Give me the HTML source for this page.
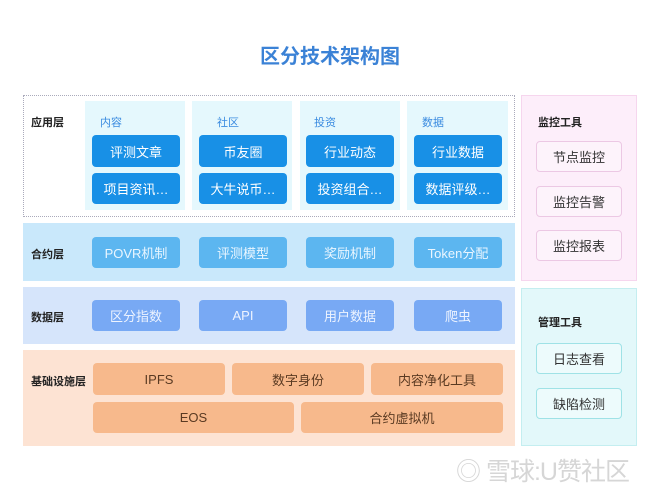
<!DOCTYPE html>
<html><head><meta charset="utf-8"><style>
*{margin:0;padding:0;box-sizing:border-box}
body{width:660px;height:495px;background:#fff;position:relative;font-family:"Liberation Sans","Noto Sans CJK SC",sans-serif;overflow:hidden}
.a{position:absolute}
.t{display:flex;align-items:center;justify-content:center;border-radius:4px;color:#fff;font-size:13px}
.lab{position:absolute;font-size:11px;font-weight:bold;color:#222}
.b1{background:#1890e6}
.b2{background:#5cb6f0;color:#eaf6ff}
.b3{background:#78a9f4;color:#eef4ff}
.b4{background:#f7b98c;color:#5a3a22}
.m{background:#fdf3fb;border:1px solid #ecc8e4;color:#333}
.g{background:#edfbfc;border:1px solid #9fe2e6;color:#333}
</style></head><body>
<div class="a" style="left:0;top:40px;width:660px;text-align:center;font-size:20px;font-weight:bold;color:#3b82d6">区分技术架构图</div>

<div class="a" style="left:23px;top:95px;width:492px;height:122px;border:1px dotted #aab"></div>
<div class="lab" style="left:31px;top:114px">应用层</div>
<div class="a" style="left:85px;top:101px;width:100px;height:109px;background:#e5f8fd"></div>
<div class="a" style="left:192px;top:101px;width:100px;height:109px;background:#e5f8fd"></div>
<div class="a" style="left:300px;top:101px;width:100px;height:109px;background:#e5f8fd"></div>
<div class="a" style="left:407px;top:101px;width:101px;height:109px;background:#e5f8fd"></div>
<div class="a" style="left:100px;top:114px;font-size:11px;color:#3a8be0">内容</div>
<div class="a" style="left:217px;top:114px;font-size:11px;color:#3a8be0">社区</div>
<div class="a" style="left:314px;top:114px;font-size:11px;color:#3a8be0">投资</div>
<div class="a" style="left:422px;top:114px;font-size:11px;color:#3a8be0">数据</div>
<div class="a t b1" style="left:92px;top:135px;width:88px;height:32px">评测文章</div>
<div class="a t b1" style="left:92px;top:173px;width:88px;height:31px">项目资讯…</div>
<div class="a t b1" style="left:199px;top:135px;width:88px;height:32px">币友圈</div>
<div class="a t b1" style="left:199px;top:173px;width:88px;height:31px">大牛说币…</div>
<div class="a t b1" style="left:306px;top:135px;width:88px;height:32px">行业动态</div>
<div class="a t b1" style="left:306px;top:173px;width:88px;height:31px">投资组合…</div>
<div class="a t b1" style="left:414px;top:135px;width:88px;height:32px">行业数据</div>
<div class="a t b1" style="left:414px;top:173px;width:88px;height:31px">数据评级…</div>

<div class="a" style="left:23px;top:223px;width:492px;height:58px;background:#c9e8fb"></div>
<div class="lab" style="left:31px;top:246px">合约层</div>
<div class="a t b2" style="left:92px;top:237px;width:88px;height:31px">POVR机制</div>
<div class="a t b2" style="left:199px;top:237px;width:88px;height:31px">评测模型</div>
<div class="a t b2" style="left:306px;top:237px;width:88px;height:31px">奖励机制</div>
<div class="a t b2" style="left:414px;top:237px;width:88px;height:31px">Token分配</div>

<div class="a" style="left:23px;top:287px;width:492px;height:57px;background:#d6e5fb"></div>
<div class="lab" style="left:31px;top:309px">数据层</div>
<div class="a t b3" style="left:92px;top:300px;width:88px;height:31px">区分指数</div>
<div class="a t b3" style="left:199px;top:300px;width:88px;height:31px">API</div>
<div class="a t b3" style="left:306px;top:300px;width:88px;height:31px">用户数据</div>
<div class="a t b3" style="left:414px;top:300px;width:88px;height:31px">爬虫</div>

<div class="a" style="left:23px;top:350px;width:492px;height:96px;background:#fde3d3"></div>
<div class="lab" style="left:31px;top:373px">基础设施层</div>
<div class="a t b4" style="left:93px;top:363px;width:132px;height:32px">IPFS</div>
<div class="a t b4" style="left:232px;top:363px;width:132px;height:32px">数字身份</div>
<div class="a t b4" style="left:371px;top:363px;width:132px;height:32px">内容净化工具</div>
<div class="a t b4" style="left:93px;top:402px;width:201px;height:31px">EOS</div>
<div class="a t b4" style="left:301px;top:402px;width:202px;height:31px">合约虚拟机</div>

<div class="a" style="left:521px;top:95px;width:116px;height:186px;background:#fdeefa;border:1px solid #f6d6ee"></div>
<div class="lab" style="left:538px;top:114px">监控工具</div>
<div class="a t m" style="left:536px;top:141px;width:86px;height:31px">节点监控</div>
<div class="a t m" style="left:536px;top:186px;width:86px;height:31px">监控告警</div>
<div class="a t m" style="left:536px;top:230px;width:86px;height:31px">监控报表</div>

<div class="a" style="left:521px;top:288px;width:116px;height:158px;background:#e3f8fa;border:1px solid #c4eef0"></div>
<div class="lab" style="left:538px;top:314px">管理工具</div>
<div class="a t g" style="left:536px;top:343px;width:86px;height:31px">日志查看</div>
<div class="a t g" style="left:536px;top:388px;width:86px;height:31px">缺陷检测</div>

<div class="a" style="left:456px;top:458px;font-size:25px;line-height:28px;color:#d6d6d6;white-space:nowrap;letter-spacing:-1px">◎ 雪球:U赞社区</div>
</body></html>
